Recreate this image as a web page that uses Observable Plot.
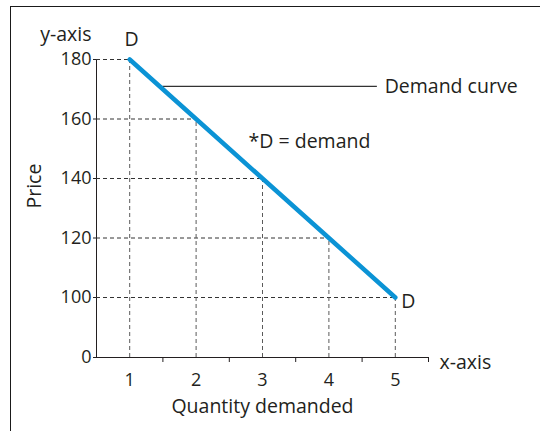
<!DOCTYPE html>
<html><head><meta charset="utf-8">
<script src="https://cdn.jsdelivr.net/npm/d3@7"></script>
<script src="https://cdn.jsdelivr.net/npm/@observablehq/plot@0.6"></script>
<style>
html,body{margin:0;padding:0;background:#fff;}
#wrap{position:relative;width:540px;height:431px;overflow:hidden;background:#fff;}
#wrap svg{position:absolute;left:0;top:0;}
#frame{position:absolute;left:10px;top:6px;width:600px;height:600px;border-top:1px solid #1a1a1a;border-left:1px solid #1a1a1a;pointer-events:none;}
</style></head><body>
<div id="wrap"></div>
<script>
const quantity = [1, 2, 3, 4, 5];
const price = [180, 160, 140, 120, 100];
const yTicks = [0, 100, 120, 140, 160, 180];
const xMinorTicks = [1.5, 2.5, 3.5, 4.5, 5.5];
const xLabels = [1, 2, 3, 4, 5];
const curveLabel = "D";
const data = quantity.map((q, i) => ({quantity: q, price: price[i]}));

const ink = "#231f20";
const font = "'Open Sans', 'Noto Sans', sans-serif";

const chart = Plot.plot({
  width: 540, height: 431,
  marginLeft: 96, marginRight: 112, marginTop: 59, marginBottom: 74,
  style: {fontFamily: font, fontSize: "18px", color: ink, background: "transparent", overflow: "visible"},
  x: {domain: [0.5, 5.5], ticks: xMinorTicks, tickFormat: () => "", tickSize: 5, line: true, label: null},
  y: {type: "linear", domain: [0, 100, 180], range: [357, 297, 59], ticks: yTicks, tickSize: 3, tickPadding: 2, line: true, label: null},
  marks: [
    Plot.ruleY(data, {y: "price", x1: 0.5, x2: "quantity", stroke: "#333", strokeWidth: 1, strokeDasharray: "4,3"}),
    Plot.ruleX(data, {x: "quantity", y1: 0, y2: "price", stroke: "#5a5a5a", strokeWidth: 1, strokeDasharray: "4,3"}),
    Plot.ruleY([171], {x1: 1.5, x2: 4.73, stroke: "#333", strokeWidth: 1.2}),
    Plot.line(data, {x: "quantity", y: "price", stroke: "#0b93d5", strokeWidth: 4.5}),
    Plot.text(xLabels, {x: d => d, y: 0, text: d => String(d), dy: 22.5, fontSize: 18, fill: ink}),
    Plot.text(["Quantity demanded"], {frameAnchor: "bottom", dy: 55, fontSize: 19.5, fill: ink}),
    Plot.text(["Price"], {frameAnchor: "left", dx: -62, rotate: -90, fontSize: 19.5, fill: ink}),
    Plot.text(["y-axis"], {x: 0.5, y: 180, dx: -5, dy: -25, textAnchor: "end", fontSize: 19.5, fill: ink}),
    Plot.text(["x-axis"], {x: 5.5, y: 0, dx: 11, dy: 5, textAnchor: "start", fontSize: 19.5, fill: ink}),
    Plot.text([data[0]], {x: "quantity", y: "price", text: () => curveLabel, dx: 2, dy: -19.5, fontSize: 19.5, fill: ink}),
    Plot.text([data[data.length - 1]], {x: "quantity", y: "price", text: () => curveLabel, dx: 6, dy: 4.5, textAnchor: "start", fontSize: 19.5, fill: ink}),
    Plot.text(["Demand curve"], {x: 4.84, y: 171, textAnchor: "start", fontSize: 19.5, fill: ink}),
    Plot.text(["*D = demand"], {x: 2.79, y: 152.5, textAnchor: "start", fontSize: 19.5, fill: ink})
  ]
});
const wrap = document.getElementById("wrap");
wrap.appendChild(chart);
const frame = document.createElement("div");
frame.id = "frame";
wrap.appendChild(frame);
</script>
</body></html>
